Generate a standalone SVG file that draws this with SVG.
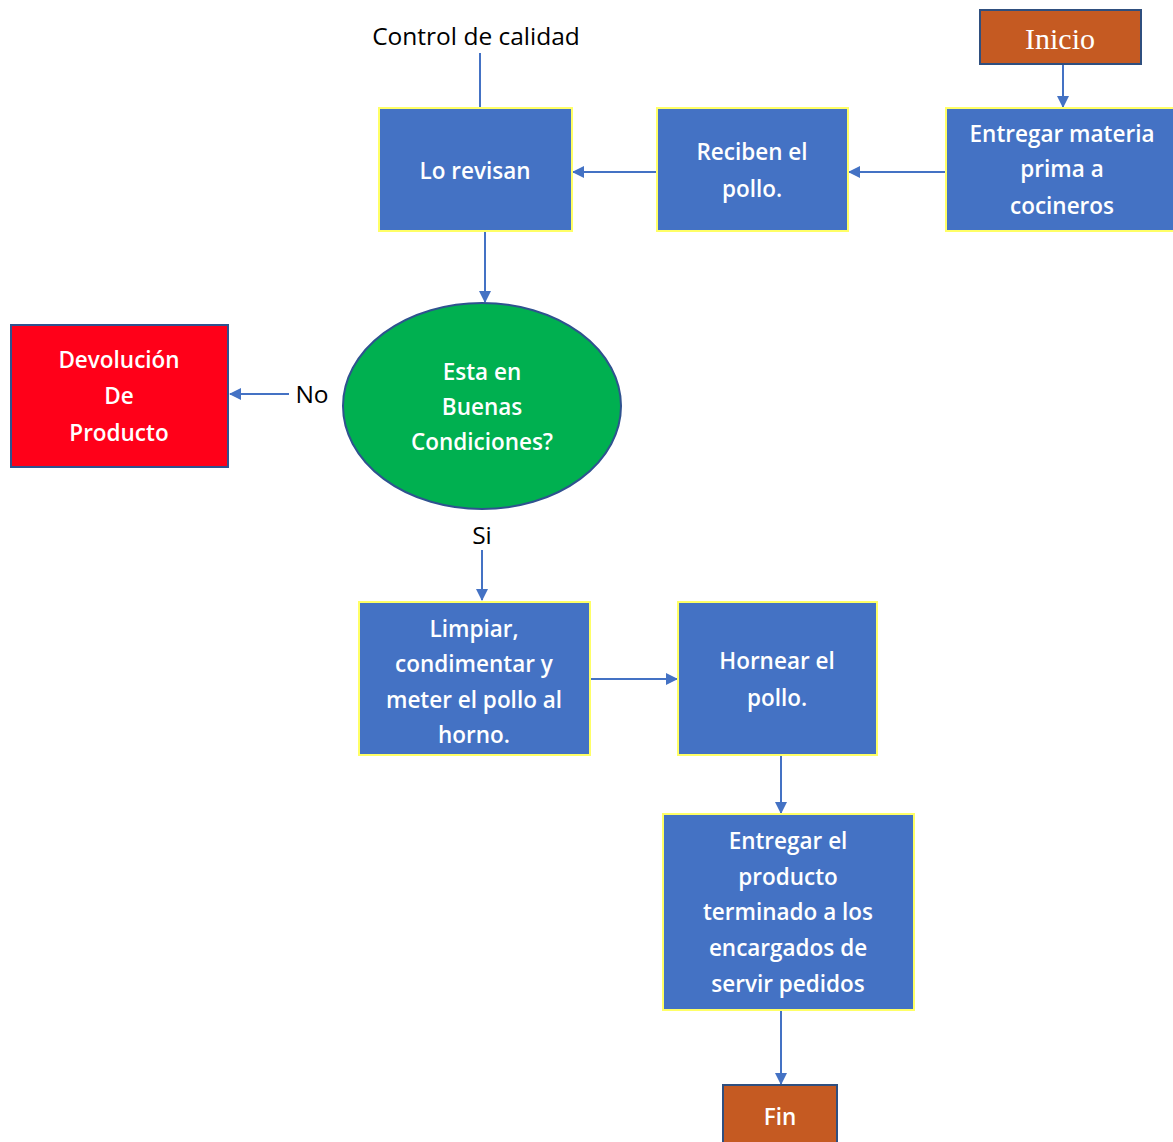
<svg xmlns="http://www.w3.org/2000/svg" width="1173" height="1142" viewBox="0 0 1173 1142">
<defs>
<marker id="ah" markerWidth="12" markerHeight="12" refX="11" refY="6" orient="auto" markerUnits="userSpaceOnUse">
<path d="M0,0 L12,6 L0,12 z" fill="#4472C4"/>
</marker>
<style>
.box{fill:#4472C4;stroke:#FFFF66;stroke-width:2}
.term{fill:#C55A22;stroke:#2F4F7F;stroke-width:2}
.t{font-family:"Open Sans","Noto Sans",sans-serif;font-size:22.5px;font-weight:600;fill:#fff;text-anchor:middle;dominant-baseline:central}
.lbl{font-family:"Open Sans","Noto Sans",sans-serif;font-size:24.5px;fill:#000;text-anchor:middle;dominant-baseline:central}
.c{stroke:#4472C4;stroke-width:2;fill:none}
</style>
</defs>
<rect width="1173" height="1142" fill="#fff"/>
<g id="connectors">
<line class="c" x1="1063" y1="64" x2="1063" y2="107" marker-end="url(#ah)"/>
<line class="c" x1="946" y1="172" x2="849" y2="172" marker-end="url(#ah)"/>
<line class="c" x1="657" y1="172" x2="573" y2="172" marker-end="url(#ah)"/>
<line class="c" x1="480" y1="53" x2="480" y2="108"/>
<line class="c" x1="485" y1="231" x2="485" y2="302" marker-end="url(#ah)"/>
<line class="c" x1="289" y1="394" x2="230" y2="394" marker-end="url(#ah)"/>
<line class="c" x1="482" y1="550" x2="482" y2="600" marker-end="url(#ah)"/>
<line class="c" x1="590" y1="679" x2="677" y2="679" marker-end="url(#ah)"/>
<line class="c" x1="781" y1="755" x2="781" y2="813" marker-end="url(#ah)"/>
<line class="c" x1="781" y1="1010" x2="781" y2="1084" marker-end="url(#ah)"/>
<text class="lbl" x="312" y="393">No</text>
<text class="lbl" x="482" y="534">Si</text>
</g>
<g id="control">
<text class="lbl" x="476" y="35">Control de calidad</text>
</g>
<g id="inicio">
<rect class="term" x="980" y="10" width="161" height="54"/>
<text x="1060" y="38" font-family="Liberation Serif,serif" font-size="30" fill="#fff" text-anchor="middle" dominant-baseline="central">Inicio</text>
</g>
<g id="entregar-materia">
<rect class="box" x="946" y="108" width="230" height="123"/>
<text class="t" x="1062" y="133">Entregar materia</text>
<text class="t" x="1062" y="168">prima a</text>
<text class="t" x="1062" y="205">cocineros</text>
</g>
<g id="reciben">
<rect class="box" x="657" y="108" width="191" height="123"/>
<text class="t" x="752" y="151">Reciben el</text>
<text class="t" x="752" y="188">pollo.</text>
</g>
<g id="revisan">
<rect class="box" x="379" y="108" width="193" height="123"/>
<text class="t" x="475" y="170">Lo revisan</text>
</g>
<g id="decision">
<ellipse cx="482" cy="406" rx="139" ry="103" fill="#00B050" stroke="#2F528F" stroke-width="2"/>
<text class="t" x="482" y="371">Esta en</text>
<text class="t" x="482" y="406">Buenas</text>
<text class="t" x="482" y="441">Condiciones?</text>
</g>
<g id="devolucion">
<rect x="11" y="325" width="217" height="142" fill="#FF0019" stroke="#2F528F" stroke-width="2"/>
<text class="t" x="119" y="359">Devolución</text>
<text class="t" x="119" y="395">De</text>
<text class="t" x="119" y="432">Producto</text>
</g>
<g id="limpiar">
<rect class="box" x="359" y="602" width="231" height="153"/>
<text class="t" x="474" y="628">Limpiar,</text>
<text class="t" x="474" y="663">condimentar y</text>
<text class="t" x="474" y="699">meter el pollo al</text>
<text class="t" x="474" y="734">horno.</text>
</g>
<g id="hornear">
<rect class="box" x="678" y="602" width="199" height="153"/>
<text class="t" x="777" y="660">Hornear el</text>
<text class="t" x="777" y="697">pollo.</text>
</g>
<g id="entregar-producto">
<rect class="box" x="663" y="814" width="251" height="196"/>
<text class="t" x="788" y="840">Entregar el</text>
<text class="t" x="788" y="876">producto</text>
<text class="t" x="788" y="911">terminado a los</text>
<text class="t" x="788" y="947">encargados de</text>
<text class="t" x="788" y="983">servir pedidos</text>
</g>
<g id="fin">
<rect class="term" x="723" y="1085" width="114" height="60"/>
<text class="t" x="780" y="1116">Fin</text>
</g>
</svg>
